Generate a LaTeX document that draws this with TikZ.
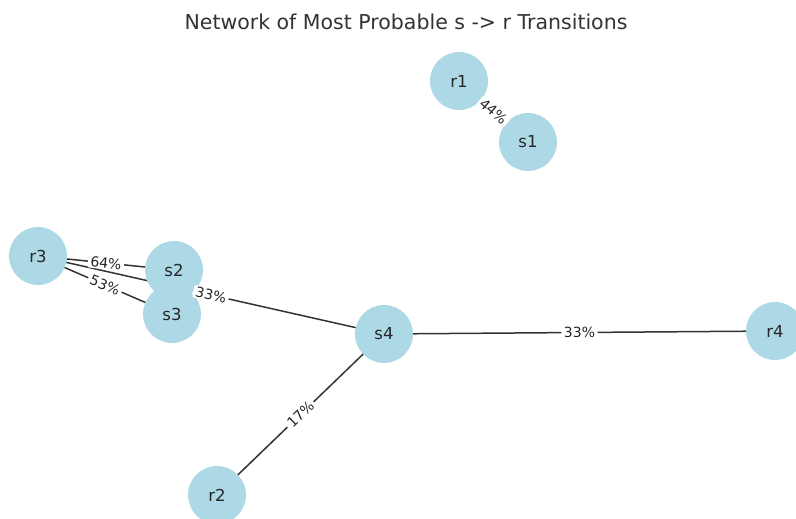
\documentclass[tikz,border=0pt]{standalone}
\usepackage{fontspec}
\setmainfont{DejaVu Sans}
\usetikzlibrary{backgrounds}
\definecolor{nodeblue}{RGB}{173,216,230}
\definecolor{edgegray}{RGB}{51,51,51}
\definecolor{titlegray}{RGB}{51,51,51}
\tikzset{
  vert/.style={circle, fill=nodeblue, minimum size=58pt, inner sep=0pt, font=\fontsize{16.5}{18}\selectfont, text=black!85},
  edge/.style={draw=edgegray, line width=1.5pt},
  lab/.style={midway, sloped, fill=white, rounded corners=2pt, inner xsep=2.5pt, inner ysep=1pt, font=\fontsize{14}{15}\selectfont, text=black!85}
}
\begin{document}
\begin{tikzpicture}[x=1pt,y=-1pt]
\useasboundingbox (0,0) rectangle (796,519);
\clip (0,0) rectangle (796,519);
\node[anchor=base, text=titlegray, font=\fontsize{20.5}{22}\selectfont] (title) at (406,30) {Network of Most Probable s -> r Transitions};
\node[vert] (r1) at (459,81) {r1};
\node[vert] (s1) at (528,142) {s1};
\node[vert] (r3) at (38,256) {r3};
\node[vert] (s2) at (174,270) {s2};
\node[vert] (s3) at (172,314) {s3};
\node[vert] (s4) at (384,334) {s4};
\node[vert] (r4) at (775,331) {r4};
\node[vert] (r2) at (217,495) {r2};
\begin{scope}[on background layer]
\draw[edge] (r1.center) -- (s1.center);
\draw[edge] (r3.center) -- (s2.center);
\draw[edge] (r3.center) -- (s3.center);
\draw[edge] (r3.center) -- (s4.center);
\draw[edge] (s4.center) -- (r4.center);
\draw[edge] (s4.center) -- (r2.center);
\end{scope}
\path (r1.center) -- node[lab] (l1) {44\%} (s1.center);
\path (r3.center) -- node[lab] (l2) {64\%} (s2.center);
\path (r3.center) -- node[lab] (l3) {53\%} (s3.center);
\path (r3.center) -- node[lab] (l4) {33\%} (s4.center);
\path (s4.center) -- node[lab] (l5) {33\%} (r4.center);
\path (s4.center) -- node[lab] (l6) {17\%} (r2.center);
\end{tikzpicture}
\end{document}
